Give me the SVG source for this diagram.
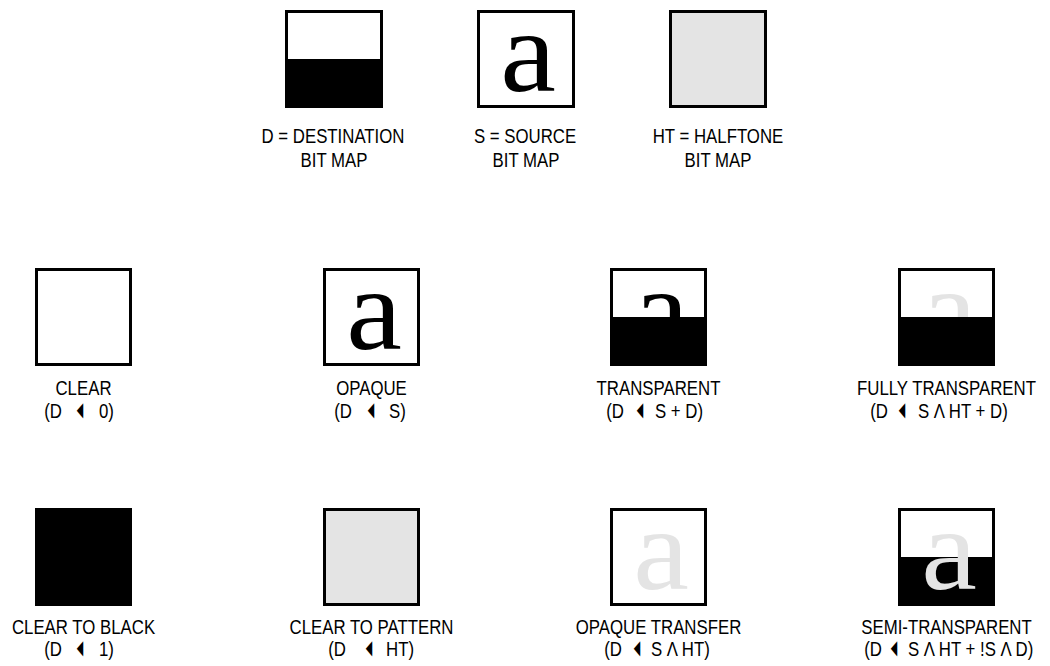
<svg xmlns="http://www.w3.org/2000/svg" width="1050" height="666" viewBox="0 0 1050 666">
<style>
.box{stroke:#000;stroke-width:3}
.w{fill:#fff}
.g{fill:#e4e4e4}
.k{fill:#000}
.lbl{font-family:"Liberation Sans",Arial,sans-serif;font-size:20.5px;fill:#000;text-anchor:middle}
.le{text-anchor:end}
.ls{text-anchor:start}
.a{font-family:"Liberation Serif","Times New Roman",serif;font-size:116px;text-anchor:middle}
.ab{fill:#000}
.ag{fill:#e4e4e4}
.arr{font-family:"DejaVu Sans",sans-serif;font-size:20px;text-anchor:middle;fill:#000}
</style>
<rect width="1050" height="666" fill="#fff"/>

<g id="destination">
  <rect class="box w" x="286.5" y="11.5" width="95" height="95"/>
  <rect class="k" x="285" y="59" width="98" height="49"/>
  <text class="lbl" transform="translate(333,143) scale(0.82,1)">D = DESTINATION</text>
  <text class="lbl" transform="translate(334,167) scale(0.82,1)">BIT MAP</text>
</g>
<g id="source">
  <rect class="box w" x="478.5" y="11.5" width="95" height="95"/>
  <text class="a ab" transform="translate(528,91) scale(1.08,1)">a</text>
  <text class="lbl" transform="translate(525,143) scale(0.82,1)">S = SOURCE</text>
  <text class="lbl" transform="translate(526,167) scale(0.82,1)">BIT MAP</text>
</g>
<g id="halftone">
  <rect class="box g" x="670.5" y="11.5" width="95" height="95"/>
  <text class="lbl" transform="translate(718,143) scale(0.82,1)">HT = HALFTONE</text>
  <text class="lbl" transform="translate(718,167) scale(0.82,1)">BIT MAP</text>
</g>

<g id="clear">
  <rect class="box w" x="36.5" y="269.5" width="94" height="95"/>
  <text class="lbl" transform="translate(83.5,395) scale(0.82,1)">CLEAR</text>
  <text class="lbl le" transform="translate(62,418) scale(0.82,1)">(D</text>
  <text class="arr" transform="translate(80,416) scale(0.42,1)">◀</text>
  <text class="lbl ls" transform="translate(99,418) scale(0.82,1)">0)</text>
</g>
<g id="opaque">
  <rect class="box w" x="324.5" y="269.5" width="94" height="95"/>
  <text class="a ab" transform="translate(374,349) scale(1.08,1)">a</text>
  <text class="lbl" transform="translate(371.5,395) scale(0.82,1)">OPAQUE</text>
  <text class="lbl le" transform="translate(352,418) scale(0.82,1)">(D</text>
  <text class="arr" transform="translate(371,416) scale(0.42,1)">◀</text>
  <text class="lbl ls" transform="translate(389,418) scale(0.82,1)">S)</text>
</g>
<g id="transparent">
  <rect class="box w" x="611.5" y="269.5" width="94" height="95"/>
  <text class="a ab" transform="translate(661,349) scale(1.08,1)">a</text>
  <rect class="k" x="610" y="317" width="97" height="49"/>
  <text class="lbl" transform="translate(658.5,395) scale(0.82,1)">TRANSPARENT</text>
  <text class="lbl le" transform="translate(624,418) scale(0.82,1)">(D</text>
  <text class="arr" transform="translate(640,416) scale(0.42,1)">◀</text>
  <text class="lbl ls" transform="translate(655,418) scale(0.82,1)">S + D)</text>
</g>
<g id="fully-transparent">
  <rect class="box w" x="899.5" y="269.5" width="94" height="95"/>
  <text class="a ag" transform="translate(949,349) scale(1.08,1)">a</text>
  <rect class="k" x="898" y="317" width="97" height="49"/>
  <text class="lbl" transform="translate(946.5,395) scale(0.82,1)">FULLY TRANSPARENT</text>
  <text class="lbl le" transform="translate(888,418) scale(0.82,1)">(D</text>
  <text class="arr" transform="translate(902,416) scale(0.42,1)">◀</text>
  <text class="lbl ls" transform="translate(918,418) scale(0.82,1)">S Λ HT + D)</text>
</g>

<g id="clear-to-black">
  <rect class="box k" x="36.5" y="509.5" width="94" height="95"/>
  <text class="lbl" transform="translate(83.5,634) scale(0.82,1)">CLEAR TO BLACK</text>
  <text class="lbl le" transform="translate(62,656) scale(0.82,1)">(D</text>
  <text class="arr" transform="translate(80,654) scale(0.42,1)">◀</text>
  <text class="lbl ls" transform="translate(99,656) scale(0.82,1)">1)</text>
</g>
<g id="clear-to-pattern">
  <rect class="box g" x="324.5" y="509.5" width="94" height="95"/>
  <text class="lbl" transform="translate(371.5,634) scale(0.82,1)">CLEAR TO PATTERN</text>
  <text class="lbl le" transform="translate(346,656) scale(0.82,1)">(D</text>
  <text class="arr" transform="translate(369,654) scale(0.42,1)">◀</text>
  <text class="lbl ls" transform="translate(386,656) scale(0.82,1)">HT)</text>
</g>
<g id="opaque-transfer">
  <rect class="box w" x="611.5" y="509.5" width="94" height="95"/>
  <text class="a ag" transform="translate(661,589) scale(1.08,1)">a</text>
  <text class="lbl" transform="translate(658.5,634) scale(0.82,1)">OPAQUE TRANSFER</text>
  <text class="lbl le" transform="translate(622,656) scale(0.82,1)">(D</text>
  <text class="arr" transform="translate(637,654) scale(0.42,1)">◀</text>
  <text class="lbl ls" transform="translate(651,656) scale(0.82,1)">S Λ HT)</text>
</g>
<g id="semi-transparent">
  <rect class="box w" x="899.5" y="509.5" width="94" height="95"/>
  <rect class="k" x="898" y="557" width="97" height="49"/>
  <text class="a ag" transform="translate(949,589) scale(1.08,1)">a</text>
  <text class="lbl" transform="translate(946.5,634) scale(0.82,1)">SEMI-TRANSPARENT</text>
  <text class="lbl le" transform="translate(882,656) scale(0.82,1)">(D</text>
  <text class="arr" transform="translate(894,654) scale(0.42,1)">◀</text>
  <text class="lbl ls" transform="translate(908,656) scale(0.82,1)">S Λ HT + !S Λ D)</text>
</g>
</svg>
